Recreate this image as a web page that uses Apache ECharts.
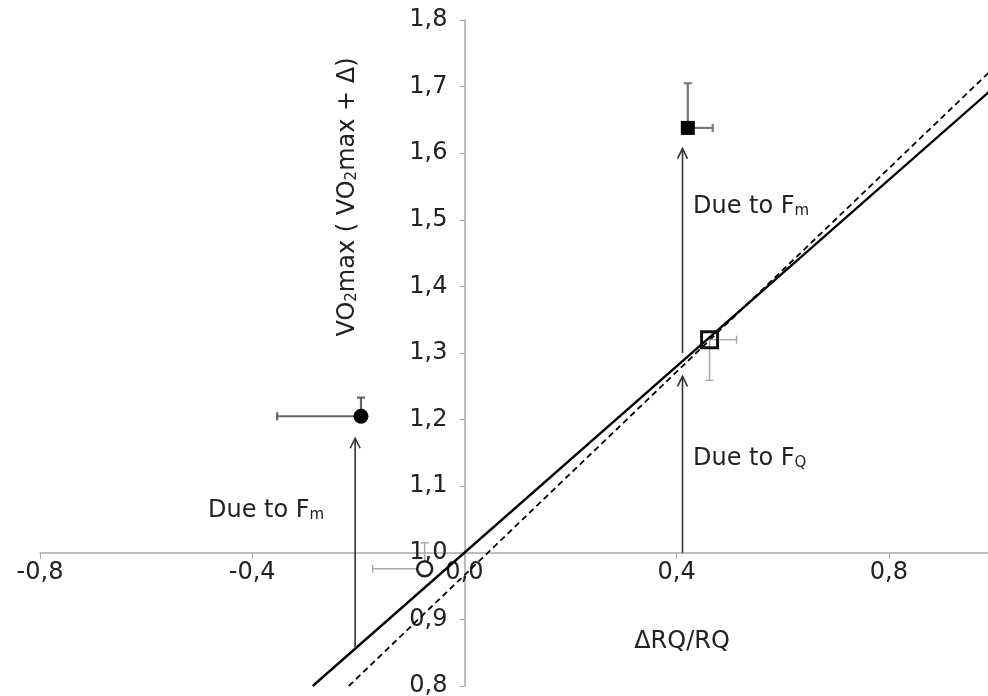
<!DOCTYPE html>
<html>
<head>
<meta charset="utf-8">
<script src="https://cdn.jsdelivr.net/npm/echarts@6/dist/echarts.min.js"></script>
<style>html,body{margin:0;padding:0;background:#fff}#c{width:988px;height:696px}</style>
</head>
<body>
<div id="c"></div>
<script>
// ---- data ----
const xTickValues = [-0.8, -0.4, 0.0, 0.4, 0.8];
const yTickValues = [0.8, 0.9, 1.0, 1.1, 1.2, 1.3, 1.4, 1.5, 1.6, 1.7, 1.8];

// markers: filled circle, open circle, filled square, open square
const pointX = [-0.195, -0.075, 0.421, 0.462];
const pointY = [1.205, 0.976, 1.638, 1.320];
// error bar ends (horizontal end x, vertical end y)
const errEndX = [-0.353, -0.173, 0.468, 0.513];
const errEndY = [1.233, 1.015, 1.705, 1.259];

// regression lines
const solidLineX = [-0.286, 1.0];
const solidLineY = [0.80, 1.70];
const dashedLineX = [-0.218, 1.0];
const dashedLineY = [0.80, 1.73];

// arrows
const arrowX = [-0.206, 0.411, 0.411];
const arrowFrom = [0.857, 1.300, 1.000];
const arrowTo = [1.172, 1.607, 1.265];

const FONT = 'DejaVu Sans';
const FS = 24;
const fmt = v => v.toFixed(1).replace('.', ',');

const X_MIN = -0.8, X_MAX = 1.0, Y_MIN = 0.8, Y_MAX = 1.8;
const GRID = { left: 40, right: -7, top: 20, bottom: 10 };
const W = 988, H = 696;
const plotW = W - GRID.left - GRID.right, plotH = H - GRID.top - GRID.bottom;
// axes cross at x = 0 and y = 1.0
const yAxisOffset = -plotW * (0 - X_MIN) / (X_MAX - X_MIN);
const xAxisOffset = -plotH * (1.0 - Y_MIN) / (Y_MAX - Y_MIN);

const chart = echarts.init(document.getElementById('c'));

function pt(i) { return [[pointX[i], pointY[i], errEndX[i], errEndY[i]]]; }

function errRender(color, width) {
  return function (params, api) {
    const x = api.value(0), y = api.value(1), ex = api.value(2), ey = api.value(3);
    const p = api.coord([x, y]);
    const h = api.coord([ex, y]);
    const v = api.coord([x, ey]);
    const st = { stroke: color, lineWidth: width };
    const c = 4;
    return {
      type: 'group',
      children: [
        { type: 'line', shape: { x1: p[0], y1: p[1], x2: h[0], y2: h[1] }, style: st },
        { type: 'line', shape: { x1: h[0], y1: h[1] - c, x2: h[0], y2: h[1] + c }, style: st },
        { type: 'line', shape: { x1: p[0], y1: p[1], x2: v[0], y2: v[1] }, style: st },
        { type: 'line', shape: { x1: v[0] - c, y1: v[1], x2: v[0] + c, y2: v[1] }, style: st }
      ]
    };
  };
}

const arrowData = arrowX.map((x, i) => [x, arrowFrom[i], arrowTo[i]]);

const subRich = {
  n: { fontSize: FS, fontFamily: FONT, verticalAlign: 'bottom', color: '#222' },
  s: { fontSize: 15, fontFamily: FONT, verticalAlign: 'bottom', color: '#222' }
};

function label(x, y, txt) {
  return {
    type: 'text', x: x, y: y, z: 100,
    style: { text: txt, rich: subRich, fontFamily: FONT, fontSize: FS, fill: '#222', align: 'left', verticalAlign: 'middle' }
  };
}

chart.setOption({
  animation: false,
  backgroundColor: '#fff',
  grid: Object.assign({ containLabel: false, outerBoundsMode: 'none' }, GRID),
  xAxis: {
    type: 'value', min: X_MIN, max: X_MAX, interval: 0.4,
    offset: xAxisOffset,
    axisLine: { onZero: false, lineStyle: { color: '#a8a8a8', width: 1.5 } },
    axisTick: { show: true, length: 6, lineStyle: { color: '#a8a8a8' } },
    splitLine: { show: false },
    axisLabel: {
      margin: 8, fontSize: FS, fontFamily: FONT, color: '#222',
      formatter: v => xTickValues.some(t => Math.abs(t - v) < 1e-6) ? fmt(v) : ''
    }
  },
  yAxis: {
    type: 'value', min: Y_MIN, max: Y_MAX, interval: 0.1,
    offset: yAxisOffset,
    axisLine: { onZero: false, lineStyle: { color: '#a8a8a8', width: 1.5 } },
    axisTick: { show: true, length: 5, lineStyle: { color: '#a8a8a8' } },
    splitLine: { show: false },
    axisLabel: {
      margin: 17, fontSize: FS, fontFamily: FONT, color: '#222',
      formatter: v => yTickValues.some(t => Math.abs(t - v) < 1e-6) ? fmt(v) : ''
    }
  },
  series: [
    { type: 'line', data: solidLineX.map((x, i) => [x, solidLineY[i]]), symbol: 'none',
      lineStyle: { color: '#000', width: 2.4 }, z: 3 },
    { type: 'line', data: dashedLineX.map((x, i) => [x, dashedLineY[i]]), symbol: 'none',
      lineStyle: { color: '#000', width: 1.8, type: [6, 4] }, z: 3 },
    { type: 'custom', data: arrowData, z: 4,
      renderItem: function (params, api) {
        const a = api.coord([api.value(0), api.value(1)]);
        const b = api.coord([api.value(0), api.value(2)]);
        const st = { stroke: '#333', lineWidth: 1.6 };
        return { type: 'group', children: [
          { type: 'line', shape: { x1: a[0], y1: a[1], x2: b[0], y2: b[1] }, style: st },
          { type: 'polyline', shape: { points: [[b[0] - 5, b[1] + 10], [b[0], b[1]], [b[0] + 5, b[1] + 10]] }, style: Object.assign({ fill: null }, st) }
        ] };
      }
    },
    { type: 'custom', data: pt(0), renderItem: errRender('#666', 2.2), z: 5 },
    { type: 'custom', data: pt(1), renderItem: errRender('#aaa', 1.5), z: 5 },
    { type: 'custom', data: pt(2), renderItem: errRender('#777', 2.2), z: 5 },
    { type: 'custom', data: pt(3), renderItem: errRender('#aaa', 1.5), z: 5 },
    { type: 'scatter', data: [[pointX[0], pointY[0]]], symbol: 'circle', symbolSize: 15,
      itemStyle: { color: '#000', opacity: 1 }, z: 10 },
    { type: 'scatter', data: [[pointX[1], pointY[1]]], symbol: 'circle', symbolSize: 15,
      itemStyle: { color: '#fff', borderColor: '#222', borderWidth: 2.5, opacity: 1 }, z: 10 },
    { type: 'scatter', data: [[pointX[2], pointY[2]]], symbol: 'rect', symbolSize: 14,
      itemStyle: { color: '#000', opacity: 1 }, z: 10 },
    { type: 'scatter', data: [[pointX[3], pointY[3]]], symbol: 'rect', symbolSize: 16,
      itemStyle: { color: 'rgba(0,0,0,0)', borderColor: '#111', borderWidth: 3, opacity: 1 }, z: 10 }
  ],
  graphic: [
    label(693, 207, '{n|Due to F}{s|m}'),
    label(693, 459, '{n|Due to F}{s|Q}'),
    label(208, 511, '{n|Due to F}{s|m}'),
    { type: 'text', x: 682, y: 642, z: 100,
      style: { text: 'ΔRQ/RQ', fontFamily: FONT, fontSize: FS, fill: '#222', align: 'center', verticalAlign: 'middle' } },
    { type: 'text', x: 348, y: 197, rotation: Math.PI / 2, z: 100,
      style: { text: '{n|VO}{s|2}{n|max ( VO}{s|2}{n|max + Δ)}', rich: subRich, fontFamily: FONT, fontSize: FS, fill: '#222', align: 'center', verticalAlign: 'middle' } }
  ]
});
</script>
</body>
</html>
